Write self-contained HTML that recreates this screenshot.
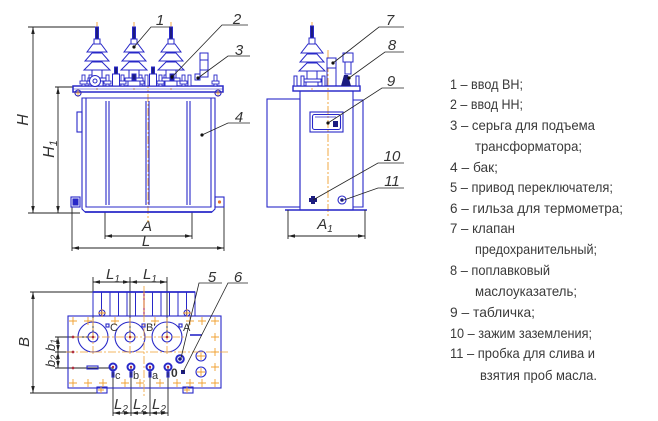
<!DOCTYPE html>
<html><head><meta charset="utf-8"><style>
html,body{margin:0;padding:0;background:#fff;}
svg{display:block;}
text{font-family:"Liberation Sans","DejaVu Sans",sans-serif;}
</style></head><body>
<svg width="658" height="421" viewBox="0 0 658 421" xmlns="http://www.w3.org/2000/svg">
<defs>
<marker id="a" viewBox="0 0 10 10" refX="10" refY="5" markerWidth="7" markerHeight="7" orient="auto-start-reverse" markerUnits="userSpaceOnUse"><path d="M0,2.5 L10,5 L0,7.5z" fill="#222"/></marker>
</defs>
<rect width="658" height="421" fill="#fff"/>

<!-- ===== FRONT VIEW ===== -->
<g fill="none" stroke="#222" stroke-width="0.9">
<!-- H -->
<line x1="28" y1="27" x2="97" y2="27"/>
<line x1="28" y1="213" x2="80" y2="213"/>
<line x1="33" y1="27" x2="33" y2="213" marker-start="url(#a)" marker-end="url(#a)"/>
<!-- H1 -->
<line x1="55" y1="87" x2="73" y2="87"/>
<line x1="58" y1="87" x2="58" y2="213" marker-start="url(#a)" marker-end="url(#a)"/>
<!-- A -->
<line x1="105" y1="212" x2="105" y2="239"/>
<line x1="192" y1="212" x2="192" y2="239"/>
<line x1="105" y1="236" x2="192" y2="236" marker-start="url(#a)" marker-end="url(#a)"/>
<!-- L -->
<line x1="72" y1="207" x2="72" y2="251"/>
<line x1="224" y1="207" x2="224" y2="251"/>
<line x1="72" y1="248" x2="224" y2="248" marker-start="url(#a)" marker-end="url(#a)"/>
</g>
<g font-style="italic" fill="#333" font-size="16">
<text transform="translate(28,120) rotate(-90)" text-anchor="middle">H</text>
<text transform="translate(54,149) rotate(-90)" text-anchor="middle">H<tspan font-size="11" dy="3">1</tspan></text>
<text x="147" y="231" text-anchor="middle" font-size="15">A</text>
<text x="146" y="246" text-anchor="middle" font-size="15">L</text>
</g>

<!-- orange centerlines front -->
<g stroke="#f0a030" stroke-width="0.9" fill="none" stroke-dasharray="8,2,2,2">
<line x1="148" y1="80" x2="148" y2="222"/>
<line x1="97" y1="22" x2="97" y2="90"/>
<line x1="134" y1="22" x2="134" y2="90"/>
<line x1="171" y1="22" x2="171" y2="90"/>
</g>

<!-- tank body front -->
<g fill="none" stroke="#2828c8" stroke-width="1.1">
<path d="M82,98 H215 V209 L212,212 H85 L82,209 Z"/>
<path d="M86,98 V207 H211 V98"/>
<line x1="85" y1="212" x2="212" y2="212" stroke-width="1.8"/>
<path d="M106,101 V205 M109,101 V205 M146,101 V205 M149,101 V205 M187,101 V205 M190,101 V205"/>
<rect x="77" y="112" width="5" height="20"/>
<rect x="71" y="197" width="9" height="10"/>
<rect x="73" y="199" width="5" height="6" fill="#2828c8"/>
<rect x="215" y="197" width="9" height="10"/>
<!-- cover -->
<rect x="73" y="86" width="150" height="6" stroke-width="1.5"/>
<line x1="73" y1="89" x2="223" y2="89" stroke-width="0.6"/>
</g>
<g fill="#e07030"><circle cx="219.5" cy="202" r="1.6"/></g>
<g stroke="#f0a030" stroke-width="0.8"><path d="M74,93 h8 M78,89 v8 M214,93 h8 M218,89 v8"/></g>
<g fill="none" stroke="#2828c8" stroke-width="1"><circle cx="78" cy="93" r="3"/><circle cx="218" cy="93" r="3"/></g>

<!-- cover bolts front -->
<g fill="#fff" stroke="#2828c8" stroke-width="0.9">
<rect x="82" y="75" width="3" height="11"/><rect x="89" y="75" width="3" height="11"/>
<rect x="106" y="75" width="3" height="11"/><rect x="121" y="75" width="3" height="11"/>
<rect x="139" y="75" width="3" height="11"/><rect x="145" y="75" width="3" height="11"/>
<rect x="159" y="75" width="3" height="11"/><rect x="164" y="75" width="3" height="11"/>
<rect x="182" y="75" width="3" height="11"/><rect x="188" y="75" width="3" height="11"/>
<rect x="214" y="75" width="3" height="11"/>
<rect x="80" y="81" width="7" height="3"/><rect x="87" y="81" width="7" height="3"/>
<rect x="104" y="81" width="7" height="3"/><rect x="119" y="81" width="7" height="3"/>
<rect x="137" y="81" width="7" height="3"/><rect x="157" y="81" width="7" height="3"/>
<rect x="180" y="81" width="7" height="3"/><rect x="212" y="81" width="7" height="3"/>
</g>

<!-- HV bushings -->
<g fill="#fff" stroke="#2828c8" stroke-width="1">
<g transform="translate(97,0)">
<rect x="-1.5" y="27" width="3" height="12" fill="#1c1c80"/>
<rect x="-3" y="39" width="6" height="5"/>
<path d="M-4,44 H4 L10,52 H-10 Z"/><path d="M-5,53 H5 L12,61 H-12 Z"/><path d="M-5,62 H5 L13,70 H-13 Z"/>
<rect x="-5" y="70" width="10" height="8"/><rect x="-9" y="78" width="18" height="3"/><rect x="-6" y="81" width="12" height="5"/>
</g>
<g transform="translate(134,0)">
<rect x="-1.5" y="27" width="3" height="12" fill="#1c1c80"/>
<rect x="-3" y="39" width="6" height="5"/>
<path d="M-4,44 H4 L10,52 H-10 Z"/><path d="M-5,53 H5 L12,61 H-12 Z"/><path d="M-5,62 H5 L13,70 H-13 Z"/>
<rect x="-5" y="70" width="10" height="8"/><rect x="-9" y="78" width="18" height="3"/><rect x="-6" y="81" width="12" height="5"/>
</g>
<g transform="translate(171,0)">
<rect x="-1.5" y="27" width="3" height="12" fill="#1c1c80"/>
<rect x="-3" y="39" width="6" height="5"/>
<path d="M-4,44 H4 L10,52 H-10 Z"/><path d="M-5,53 H5 L12,61 H-12 Z"/><path d="M-5,62 H5 L13,70 H-13 Z"/>
<rect x="-5" y="70" width="10" height="8"/><rect x="-9" y="78" width="18" height="3"/><rect x="-6" y="81" width="12" height="5"/>
</g>
<!-- LV bushings -->
<g transform="translate(116,0)"><rect x="-1.5" y="67" width="3" height="7" fill="#1c1c80"/><rect x="-3.5" y="74" width="7" height="12"/></g>
<g transform="translate(153,0)"><rect x="-1.5" y="67" width="3" height="7" fill="#1c1c80"/><rect x="-3.5" y="74" width="7" height="12"/></g>
<g transform="translate(134,0)"><rect x="-2" y="74" width="4" height="6" fill="#1c1c80"/></g>
<g transform="translate(172,0)"><rect x="-2" y="74" width="4" height="6" fill="#1c1c80"/></g>
<!-- left eye -->
<circle cx="95" cy="81" r="5.5"/><circle cx="95" cy="81" r="2"/>
<!-- lifting earring 3 -->
<rect x="200" y="53" width="8" height="24"/>
<path d="M200,60 H208 M200,70 H208" fill="none"/>
<path d="M195,74 h5 v6 h-5 z"/>
</g>

<!-- callouts front -->
<g stroke="#222" stroke-width="0.8" fill="none">
<path d="M170,27 H151 L134,47"/>
<path d="M248,25 H222 L172,77"/>
<path d="M250,56 H228 L198,78"/>
<path d="M250,123 H228 L202,135"/>
</g>
<g fill="#111"><circle cx="134" cy="47" r="1.6"/><circle cx="172" cy="77" r="1.6"/><circle cx="198" cy="78" r="1.6"/><circle cx="202" cy="135" r="1.6"/></g>
<g font-style="italic" fill="#333" font-size="15" text-anchor="middle">
<text x="160" y="25">1</text>
<text x="237" y="24">2</text>
<text x="239" y="55">3</text>
<text x="239" y="122">4</text>
</g>

<!-- ===== SIDE VIEW ===== -->
<g stroke="#f0a030" stroke-width="0.9" fill="none" stroke-dasharray="8,2,2,2">
<line x1="328" y1="50" x2="328" y2="218"/>
<line x1="312" y1="22" x2="312" y2="90"/>
</g>
<g fill="none" stroke="#2828c8" stroke-width="1.1">
<rect x="267" y="99" width="33" height="108"/>
<rect x="300" y="91" width="53" height="119"/>
<path d="M353,100 H363 V207 H353"/>
<rect x="293" y="86" width="67" height="5" stroke-width="1.4"/>
<rect x="310" y="112" width="33" height="20"/>
<rect x="312.5" y="114.5" width="28" height="15" rx="2"/>
<line x1="315" y1="117" x2="336" y2="117" stroke-width="0.7"/>
<circle cx="342" cy="200" r="4"/>
</g>
<line x1="285" y1="210" x2="367" y2="210" stroke="#2828c8" stroke-width="1.6"/>
<g fill="#1c1c80"><rect x="333" y="121" width="5" height="6"/><path d="M309,198 h8 v4 h-8z M311,196 h4 v8 h-4z"/><circle cx="342" cy="200" r="1.8"/></g>
<g fill="#fff" stroke="#2828c8" stroke-width="1">
<g transform="translate(312,0)">
<rect x="-1.5" y="26" width="3" height="12" fill="#1c1c80"/>
<rect x="-3" y="38" width="6" height="6"/>
<path d="M-4,44 H4 L11,53 H-11 Z"/><path d="M-5,54 H5 L12,62 H-12 Z"/><path d="M-5,63 H5 L13,71 H-13 Z"/>
<rect x="-5" y="71" width="10" height="8"/><rect x="-9" y="79" width="18" height="3"/><rect x="-6" y="82" width="12" height="4"/>
</g>
<rect x="327" y="58" width="9" height="10"/>
<path d="M327,68 V86 M336,68 V86" fill="none"/>
<rect x="343" y="53" width="10" height="9"/>
<rect x="345" y="62" width="6" height="12"/>
<rect x="294" y="76" width="3" height="10"/><rect x="301" y="76" width="3" height="10"/>
<rect x="322" y="76" width="3" height="10"/><rect x="356" y="76" width="3" height="10"/>
</g>
<path d="M341,86 L344,75 H348 L351,86 Z" fill="#1c1c80"/>
<!-- A1 -->
<g fill="none" stroke="#222" stroke-width="0.9">
<line x1="288" y1="210" x2="288" y2="239"/>
<line x1="365" y1="210" x2="365" y2="239"/>
<line x1="288" y1="236" x2="365" y2="236" marker-start="url(#a)" marker-end="url(#a)"/>
</g>
<text x="325" y="229" text-anchor="middle" font-style="italic" fill="#333" font-size="15">A<tspan font-size="10" dy="3">1</tspan></text>
<!-- callouts side -->
<g stroke="#222" stroke-width="0.8" fill="none">
<path d="M404,27 H379 L333,63"/>
<path d="M404,52 H385 L349,78"/>
<path d="M404,88 H382 L328,123"/>
<path d="M404,163 H378 L313,200"/>
<path d="M404,188 H378 L344,200"/>
</g>
<g fill="#111"><circle cx="333" cy="63" r="1.6"/><circle cx="349" cy="78" r="1.6"/><circle cx="328" cy="123" r="1.6"/></g>
<g font-style="italic" fill="#333" font-size="15" text-anchor="middle">
<text x="390" y="25">7</text>
<text x="392" y="50">8</text>
<text x="391" y="86">9</text>
<text x="392" y="161">10</text>
<text x="392" y="186">11</text>
</g>

<!-- ===== PLAN VIEW ===== -->
<g fill="none" stroke="#222" stroke-width="0.9">
<!-- L1 -->
<line x1="93" y1="277" x2="93" y2="337"/>
<line x1="130" y1="277" x2="130" y2="337"/>
<line x1="167" y1="277" x2="167" y2="337"/>
<line x1="93" y1="282" x2="130" y2="282" marker-start="url(#a)" marker-end="url(#a)"/>
<line x1="130" y1="282" x2="167" y2="282" marker-start="url(#a)" marker-end="url(#a)"/>
<!-- B -->
<line x1="30" y1="292" x2="93" y2="292"/>
<line x1="30" y1="393" x2="100" y2="393"/>
<line x1="33" y1="292" x2="33" y2="393" marker-start="url(#a)" marker-end="url(#a)"/>
<!-- b1 b2 -->
<line x1="55" y1="337" x2="93" y2="337"/>
<line x1="55" y1="352" x2="73" y2="352"/>
<line x1="55" y1="368" x2="113" y2="368"/>
<line x1="58" y1="337" x2="58" y2="352" marker-start="url(#a)" marker-end="url(#a)"/>
<line x1="58" y1="352" x2="58" y2="368" marker-start="url(#a)" marker-end="url(#a)"/>
<!-- L2 -->
<line x1="113" y1="367" x2="113" y2="416"/>
<line x1="131" y1="367" x2="131" y2="416"/>
<line x1="150" y1="367" x2="150" y2="416"/>
<line x1="168" y1="367" x2="168" y2="416"/>
<line x1="113" y1="413" x2="131" y2="413" marker-start="url(#a)" marker-end="url(#a)"/>
<line x1="131" y1="413" x2="150" y2="413" marker-start="url(#a)" marker-end="url(#a)"/>
<line x1="150" y1="413" x2="168" y2="413" marker-start="url(#a)" marker-end="url(#a)"/>
</g>
<g font-style="italic" fill="#333" font-size="15" text-anchor="middle">
<text x="113" y="279">L<tspan font-size="10" dy="3">1</tspan></text>
<text x="150" y="279">L<tspan font-size="10" dy="3">1</tspan></text>
<text x="121" y="409">L<tspan font-size="10" dy="3">2</tspan></text>
<text x="140" y="409">L<tspan font-size="10" dy="3">2</tspan></text>
<text x="159" y="409">L<tspan font-size="10" dy="3">2</tspan></text>
<text transform="translate(29,342) rotate(-90)">B</text>
<text transform="translate(55,345) rotate(-90)" font-size="13">b<tspan font-size="9" dy="2">1</tspan></text>
<text transform="translate(55,361) rotate(-90)" font-size="13">b<tspan font-size="9" dy="2">2</tspan></text>
</g>

<!-- radiator plan -->
<g fill="none" stroke="#2828c8" stroke-width="1">
<rect x="93" y="292" width="102" height="24"/>
<line x1="93" y1="292" x2="195" y2="292" stroke-width="1.8"/>
<path d="M101.5,292 V316 M110,292 V316 M118.5,292 V316 M127,292 V316 M135.5,292 V316 M152.5,292 V316 M161,292 V316 M169.5,292 V316 M178,292 V316 M186.5,292 V316"/>
</g>
<line x1="144" y1="292" x2="144" y2="316" stroke="#b03060" stroke-width="1.2"/>
<!-- plate -->
<g fill="none" stroke="#2828c8" stroke-width="1.1">
<rect x="68" y="316" width="153" height="72"/>
<circle cx="93" cy="337" r="15"/><circle cx="130" cy="337" r="15"/><circle cx="167" cy="337" r="15"/>
<circle cx="93" cy="337" r="5"/><circle cx="130" cy="337" r="5"/><circle cx="167" cy="337" r="5"/>
<circle cx="201" cy="356" r="5"/><circle cx="201" cy="372" r="5"/>
<circle cx="102" cy="313" r="3"/><circle cx="187" cy="313" r="3"/>
<rect x="97" y="387" width="10" height="6"/><rect x="183" y="387" width="10" height="6"/>
<rect x="87" y="366" width="11" height="3"/>
<line x1="190" y1="335" x2="202" y2="335" stroke-width="1.6"/>
<rect x="106" y="324" width="3" height="3"/><rect x="142" y="324" width="3" height="3"/><rect x="179" y="324" width="3" height="3"/>
<rect x="112" y="372" width="2" height="5"/><rect x="130" y="372" width="2" height="5"/><rect x="149" y="372" width="2" height="5"/><rect x="167" y="372" width="2" height="5"/>
</g>
<g fill="none" stroke="#2828c8" stroke-width="2">
<circle cx="113" cy="367" r="3.5"/><circle cx="131" cy="367" r="3.5"/><circle cx="150" cy="367" r="3.5"/><circle cx="168" cy="367" r="3.5"/>
<circle cx="180" cy="359" r="3.8"/>
</g>
<g fill="#1c1c80"><circle cx="180" cy="359" r="1.8"/><rect x="181" y="370" width="4" height="4"/></g>
<!-- orange centerlines plan -->
<g stroke="#f0a030" stroke-width="0.8" fill="none" stroke-dasharray="8,2,2,2">
<line x1="66" y1="352" x2="229" y2="352"/>
<line x1="144" y1="286" x2="144" y2="396"/>
<line x1="74" y1="337" x2="186" y2="337"/>
<line x1="93" y1="318" x2="93" y2="356"/>
<line x1="130" y1="318" x2="130" y2="356"/>
<line x1="167" y1="318" x2="167" y2="356"/>
</g>
<!-- orange crosses -->
<g stroke="#f0a030" stroke-width="0.9">
<path d="M69,321h8M73,317v8 M84,321h8M88,317v8 M111,321h8M115,317v8 M151,321h8M155,317v8 M186,321h8M190,317v8 M198,321h8M202,317v8 M211,321h8M215,317v8
M211,337h8M215,333v8 M211,352h8M215,348v8 M211,367h8M215,363v8
M69,383h8M73,379v8 M84,383h8M88,379v8 M99,383h8M103,379v8 M121,383h8M125,379v8 M136,383h8M140,379v8 M156,383h8M160,379v8 M173,383h8M177,379v8 M186,383h8M190,379v8 M198,383h8M202,379v8 M211,383h8M215,379v8
M197,356h8M201,352v8 M197,372h8M201,368v8 M98,313h8M102,309v8 M183,313h8M187,309v8 M184,390h6M187,387v6 M98,390h6M101,387v6"/>
</g>
<g fill="#b03040">
<circle cx="73" cy="337" r="1.4"/><circle cx="73" cy="352" r="1.4"/><circle cx="73" cy="368" r="1.4"/>
<circle cx="93" cy="337" r="1.3"/><circle cx="130" cy="337" r="1.3"/><circle cx="167" cy="337" r="1.3"/>
<circle cx="113" cy="367" r="1.2"/><circle cx="131" cy="367" r="1.2"/><circle cx="150" cy="367" r="1.2"/><circle cx="168" cy="367" r="1.2"/>
</g>
<g fill="#333" font-size="11">
<text x="110" y="331">C</text><text x="146" y="331">B'</text><text x="183" y="331">A</text>
<text x="115" y="379">c</text><text x="133" y="379">b</text><text x="152" y="379">a</text>
<text x="171" y="377" font-weight="bold" font-size="12">0</text>
</g>
<!-- callouts plan -->
<g stroke="#222" stroke-width="0.8" fill="none">
<path d="M222,283 H199 L181,358"/>
<path d="M248,283 H228 L183,372"/>
</g>
<g font-style="italic" fill="#333" font-size="15" text-anchor="middle">
<text x="212" y="282">5</text>
<text x="238" y="282">6</text>
</g>

<!-- ===== LEGEND ===== -->
<g fill="#3a3a3a" font-size="14" lengthAdjust="spacingAndGlyphs">
<text x="450" y="89" textLength="73" lengthAdjust="spacingAndGlyphs">1 – ввод ВН;</text>
<text x="450" y="109" textLength="73" lengthAdjust="spacingAndGlyphs">2 – ввод НН;</text>
<text x="450" y="130" textLength="145" lengthAdjust="spacingAndGlyphs">3 – серьга для подъема</text>
<text x="475" y="151" textLength="107" lengthAdjust="spacingAndGlyphs">трансформатора;</text>
<text x="450" y="172" textLength="48" lengthAdjust="spacingAndGlyphs">4 – бак;</text>
<text x="450" y="192" textLength="163" lengthAdjust="spacingAndGlyphs">5 – привод переключателя;</text>
<text x="450" y="213" textLength="173" lengthAdjust="spacingAndGlyphs">6 – гильза для термометра;</text>
<text x="450" y="233" textLength="65" lengthAdjust="spacingAndGlyphs">7 – клапан</text>
<text x="475" y="254" textLength="122" lengthAdjust="spacingAndGlyphs">предохранительный;</text>
<text x="450" y="275" textLength="100" lengthAdjust="spacingAndGlyphs">8 – поплавковый</text>
<text x="475" y="296" textLength="102" lengthAdjust="spacingAndGlyphs">маслоуказатель;</text>
<text x="450" y="317" textLength="85" lengthAdjust="spacingAndGlyphs">9 – табличка;</text>
<text x="450" y="338" textLength="142" lengthAdjust="spacingAndGlyphs">10 – зажим заземления;</text>
<text x="450" y="358" textLength="145" lengthAdjust="spacingAndGlyphs">11 – пробка для слива и</text>
<text x="480" y="380" textLength="117" lengthAdjust="spacingAndGlyphs">взятия проб масла.</text>
</g>
</svg>
</body></html>
